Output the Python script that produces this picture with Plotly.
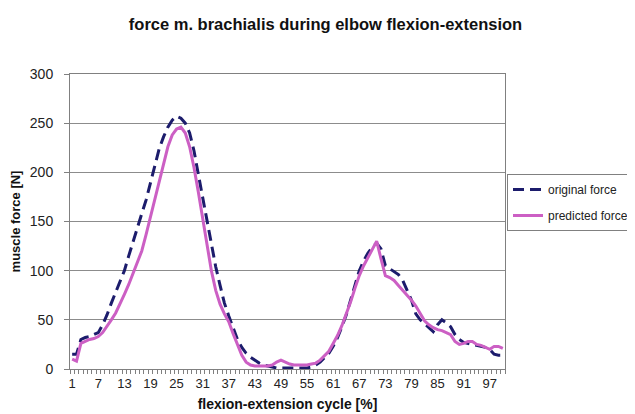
import plotly.graph_objects as go

cycle = list(range(1, 101))

original_force = [
    15, 15, 30, 32, 33, 35, 37, 45, 55, 67,
    78, 89, 100, 115, 130, 145, 158, 172, 190, 207,
    224, 236, 246, 253, 257, 255, 250, 240, 222, 198,
    175, 150, 125, 104, 85, 67, 54, 42, 30, 22,
    16, 12, 9, 6, 4, 3, 2, 1, 1, 1,
    1, 1, 1, 1, 1, 2, 4, 7, 11, 16,
    23, 32, 43, 55, 70, 85, 100, 110, 118, 124,
    128, 122, 105, 102, 99, 96, 90, 80, 70, 56,
    50, 46, 42, 38, 45, 50, 47, 43, 35, 30,
    27, 26, 25, 24, 23, 22, 20, 15, 14, 14,
]

predicted_force = [
    10, 8, 26, 28, 30, 31, 33, 37, 43, 50,
    57, 66, 76, 86, 97, 108, 120, 137, 155, 172,
    190, 208, 226, 238, 244, 246, 240, 226, 205, 180,
    152, 125, 100, 80, 66, 56, 48, 36, 24, 14,
    7, 4, 3, 3, 3, 3, 4, 7, 9, 7,
    5, 4, 4, 4, 4, 5, 6, 9, 13, 18,
    26, 34, 44, 55, 68, 82, 95, 105, 113, 122,
    130, 112, 95, 93, 90, 85, 80, 76, 70, 64,
    56, 49, 45, 42, 40, 39, 37, 35, 28, 25,
    26, 28, 28, 25, 24, 22, 20, 23, 23, 21,
]

x_tick_labels = [str(v) for v in range(1, 101, 6)]
y_ticks = [0, 50, 100, 150, 200, 250, 300]

FONT = "Liberation Sans, Arial, sans-serif"

fig = go.Figure()
fig.add_trace(go.Scatter(
    x=cycle, y=original_force, name="original force", mode="lines",
    line=dict(color="#1c1c6c", width=3, dash="11px,6px"),
    legendgroup="a",
))
fig.add_trace(go.Scatter(
    x=cycle, y=predicted_force, name="predicted force", mode="lines",
    line=dict(color="#cc5fc4", width=3),
    legendgroup="b",
))

fig.update_layout(
    width=635, height=414,
    paper_bgcolor="white", plot_bgcolor="white",
    margin=dict(l=62, r=138, t=66, b=53, autoexpand=False),
    font=dict(family=FONT, size=12, color="#222222"),
    title=dict(
        text="<b>force m. brachialis during elbow flexion-extension</b>",
        x=0.5, xref="container", xanchor="center", y=1 - 16 / 414, yanchor="middle",
        font=dict(family=FONT, size=16.5, color="#111111"),
    ),
    showlegend=True,
    legend=dict(
        x=(499 - 62) / 435, y=(361 - 166) / 295, xanchor="left", yanchor="top",
        bordercolor="#808080", borderwidth=1, bgcolor="white",
        font=dict(family=FONT, size=12, color="#222222"),
        traceorder="grouped", tracegroupgap=7,
    ),
    xaxis=dict(
        range=[0.5, 100.5], tickmode="array",
        tickvals=[int(t) for t in x_tick_labels], ticktext=x_tick_labels,
        ticks="", showgrid=False, zeroline=False,
        showline=True, linecolor="#808080", linewidth=1, mirror=True,
        tickfont=dict(size=13, color="#222222"),
        ticklabelstandoff=2,
        minor=dict(tickmode="linear", tick0=0.5, dtick=1, ticks="outside",
                   ticklen=4, tickcolor="#808080", tickwidth=1, showgrid=False),
        title=dict(text="<b>flexion-extension cycle [%]</b>", standoff=9,
                   font=dict(size=14, color="#111111")),
    ),
    yaxis=dict(
        range=[0, 300], tickmode="array", tickvals=y_ticks,
        ticks="outside", ticklen=5, tickcolor="#808080",
        ticklabelstandoff=8,
        showgrid=True, gridcolor="#8c8c8c", gridwidth=1, zeroline=False,
        showline=True, linecolor="#808080", linewidth=1, mirror=True,
        tickfont=dict(size=14, color="#222222"),
        title=dict(text="<b>muscle force [N]</b>", standoff=6,
                   font=dict(size=13, color="#111111")),
    ),
)

fig.write_html("out.html")
